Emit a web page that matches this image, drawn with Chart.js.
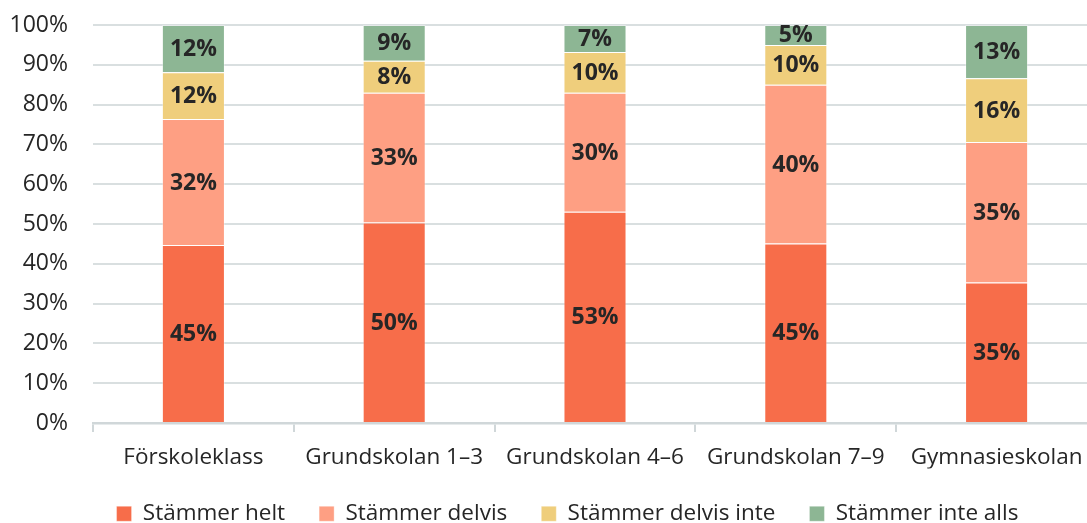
<!DOCTYPE html>
<html>
<head>
<meta charset="utf-8">
<script src="https://cdn.jsdelivr.net/npm/chart.js@4"></script>
<style>
  html, body { margin: 0; padding: 0; background: #fff; overflow: hidden; }
  #wrap { width: 1097px; height: 535px; position: relative; }
</style>
</head>
<body>
<div id="wrap"><canvas id="chart"></canvas></div>
<script>
const categories = ["Förskoleklass", "Grundskolan 1–3", "Grundskolan 4–6", "Grundskolan 7–9", "Gymnasieskolan"];
const seriesNames = ["Stämmer helt", "Stämmer delvis", "Stämmer delvis inte", "Stämmer inte alls"];
const helt = [44.7, 50.4, 53.1, 45.1, 35.3];
const delvis = [31.7, 32.6, 29.9, 39.9, 35.3];
const delvisInte = [11.7, 8.0, 10.2, 10.0, 16.0];
const inteAlls = [11.9, 9.0, 6.8, 5.0, 13.4];
const colors = ["#F76D4A", "#FE9F83", "#EFCE7C", "#8DB694"];

const FONT = "'Open Sans', 'Noto Sans', sans-serif";

// draws the rounded percentage in the middle of each segment
const segmentLabels = {
  id: "segmentLabels",
  afterDatasetsDraw(chart) {
    const ctx = chart.ctx;
    ctx.save();
    ctx.font = "bold 23px " + FONT;
    ctx.fillStyle = "#262626";
    ctx.textAlign = "center";
    ctx.textBaseline = "middle";
    chart.data.datasets.forEach((ds, i) => {
      chart.getDatasetMeta(i).data.forEach((bar, j) => {
        const { x, y, base } = bar.getProps(["x", "y", "base"], true);
        ctx.fillText(Math.round(ds.data[j]) + "%", x, (y + base) / 2 + 1);
      });
    });
    ctx.restore();
  }
};

// legend sits a bit right of centre in the original
const legendShift = {
  id: "legendShift",
  afterLayout(chart) {
    chart.legend.left += 19;
    chart.legend.right += 19;
  }
};

new Chart(document.getElementById("chart"), {
  type: "bar",
  data: {
    labels: categories,
    datasets: [helt, delvis, delvisInte, inteAlls].map((d, i) => ({
      label: seriesNames[i],
      data: d,
      backgroundColor: colors[i],
      borderColor: "rgba(255,255,255,0.35)",
      borderWidth: 1,
      categoryPercentage: 1,
      barPercentage: 0.314
    }))
  },
  options: {
    responsive: true,
    maintainAspectRatio: false,
    animation: false,
    layout: { padding: 0 },
    plugins: {
      tooltip: { enabled: false },
      legend: {
        position: "bottom",
        labels: {
          font: { family: FONT, size: 22.5 },
          color: "#262626",
          boxWidth: 15,
          boxHeight: 15,
          padding: 34
        }
      }
    },
    scales: {
      x: {
        stacked: true,
        afterFit: s => { s.height -= 14.5; },
        grid: { drawOnChartArea: false, color: "#D0D7D9", tickLength: 9, lineWidth: 2 },
        border: { color: "#D0D7D9", width: 2.5 },
        ticks: { font: { family: FONT, size: 22.5 }, color: "#262626", padding: 12, maxRotation: 0 }
      },
      y: {
        stacked: true,
        min: 0,
        max: 100,
        afterFit: s => { s.width = 93; s.paddingTop = 25; },
        grid: { color: "#D9DFE0", lineWidth: 2, drawTicks: false },
        border: { display: false },
        ticks: {
          stepSize: 10,
          padding: 25,
          font: { family: FONT, size: 23 },
          color: "#262626",
          callback: v => v + "%"
        }
      }
    }
  },
  plugins: [segmentLabels, legendShift]
});
</script>
</body>
</html>
